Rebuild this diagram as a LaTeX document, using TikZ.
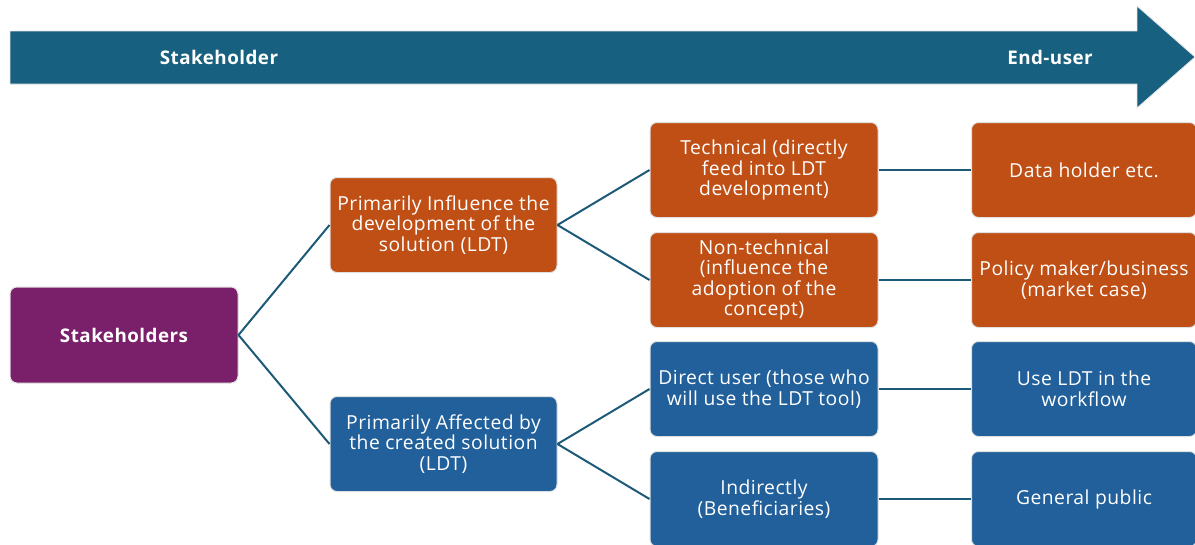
\documentclass[tikz,border=0pt]{standalone}
\usepackage{fontspec}
\setmainfont{Open Sans}[LetterSpace=2.5]
\definecolor{arrowc}{HTML}{17607F}
\definecolor{purp}{HTML}{7A1F6A}
\definecolor{orng}{HTML}{C04F15}
\definecolor{blu}{HTML}{21609B}
\definecolor{linec}{HTML}{1D5A78}
\begin{document}
\begin{tikzpicture}[x=1pt,y=-1pt,
  box/.style={rectangle, rounded corners=7pt, draw=black!12, line width=1pt, text=white, align=center, inner sep=0pt, font=\fontsize{19.3}{20.5}\selectfont},
  col1/.style={box, fill=purp, minimum width=228pt, minimum height=96pt},
  col2/.style={box, minimum width=227pt, minimum height=95pt},
  col3/.style={box, minimum width=228pt, minimum height=95pt},
  col4/.style={box, minimum width=225pt, minimum height=95pt},
  conn/.style={draw=linec, line width=2pt},
  lbl/.style={text=white, font=\bfseries\fontsize{18.8}{20}\selectfont}]
\useasboundingbox (0,0) rectangle (1195,544);
% big arrow
\fill[arrowc, draw=black!10, line width=0.8pt] (10,31) -- (1137,31) -- (1137,6) -- (1195,57) -- (1137,108) -- (1137,84) -- (10,84) -- cycle;
\node[lbl] (s) at (219,57) {Stakeholder};
\node[lbl] (e) at (1050,57) {End-user};
% nodes
\node[col1, font=\bfseries\fontsize{18.8}{20.5}\selectfont] (st) at (124,335) {Stakeholders};
\node[col2, fill=orng] (inf) at (443.5,225) {Primarily Influence the\\development of the\\solution (LDT)};
\node[col2, fill=blu] (aff) at (443.5,444) {Primarily Affected by\\the created solution\\(LDT)};
\node[col3, fill=orng] (tec) at (764,170) {Technical (directly\\feed into LDT\\development)};
\node[col3, fill=orng] (non) at (764,280) {Non-technical\\(influence the\\adoption of the\\concept)};
\node[col3, fill=blu] (dir) at (764,389) {Direct user (those who\\will use the LDT tool)};
\node[col3, fill=blu] (ind) at (764,499) {Indirectly\\(Beneficiaries)};
\node[col4, fill=orng] (dat) at (1084,170) {Data holder etc.};
\node[col4, fill=orng] (pol) at (1084,280) {Policy maker/business\\(market case)};
\node[col4, fill=blu] (use) at (1084,389) {Use LDT in the\\workflow};
\node[col4, fill=blu] (gen) at (1084,499) {General public};
% connectors
\draw[conn] (st.east) -- (inf.west);
\draw[conn] (st.east) -- (aff.west);
\draw[conn] (inf.east) -- (tec.west);
\draw[conn] (inf.east) -- (non.west);
\draw[conn] (aff.east) -- (dir.west);
\draw[conn] (aff.east) -- (ind.west);
\draw[conn] (tec.east) -- (dat.west);
\draw[conn] (non.east) -- (pol.west);
\draw[conn] (dir.east) -- (use.west);
\draw[conn] (ind.east) -- (gen.west);
\end{tikzpicture}
\end{document}
